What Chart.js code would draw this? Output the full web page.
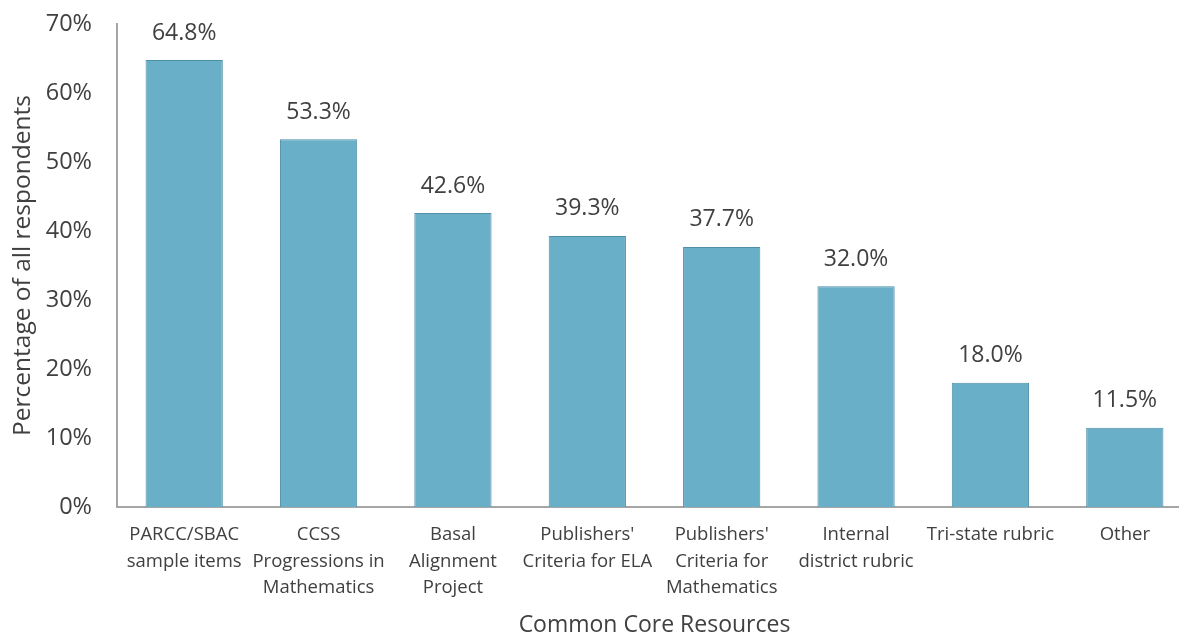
<!DOCTYPE html>
<html>
<head>
<meta charset="utf-8">
<script src="https://cdn.jsdelivr.net/npm/chart.js@4/dist/chart.umd.min.js"></script>
<style>
    body { margin: 0; background: #fff; overflow: hidden; }
    canvas { display: block; margin-top: -7px; }
</style>
</head>
<body>
<canvas id="chart" width="1192" height="643"></canvas>
<script>
const categories = [
    ["PARCC/SBAC", "sample items"],
    ["CCSS", "Progressions in", "Mathematics"],
    ["Basal", "Alignment", "Project"],
    ["Publishers'", "Criteria for ELA"],
    ["Publishers'", "Criteria for", "Mathematics"],
    ["Internal", "district rubric"],
    "Tri-state rubric",
    "Other",
]
const values = [64.8, 53.3, 42.6, 39.3, 37.7, 32.0, 18.0, 11.5]
const yTicks = [0, 10, 20, 30, 40, 50, 60, 70]

const FONT = "'Open Sans', sans-serif"
const TEXT = "#404040"
const AXIS = "#a6a6a6"

// draws the percentage above each bar
const barLabels = {
    id: "barLabels",
    afterDatasetsDraw(chart) {
        const { ctx } = chart
        const meta = chart.getDatasetMeta(0)
        ctx.save()
        ctx.font = `23px ${FONT}`
        ctx.fillStyle = TEXT
        ctx.textAlign = "center"
        ctx.textBaseline = "middle"
        meta.data.forEach((bar, i) => {
            ctx.fillText(values[i].toFixed(1) + "%", bar.x, bar.y - 27)
        })
        ctx.restore()
    },
}

const _ = new Chart(document.getElementById("chart"), {
    type: "bar",
    data: {
        labels: categories,
        datasets: [
            {
                data: values,
                backgroundColor: "#6aafc8",
                borderColor: "#4f8fa8",
                borderWidth: 1,
                barPercentage: 0.575,
                categoryPercentage: 1,
            },
        ],
    },
    options: {
        responsive: false,
        animation: false,
        layout: { padding: { top: 12, right: 0, left: 0, bottom: 0 } },
        plugins: {
            legend: { display: false },
            tooltip: { enabled: false },
        },
        scales: {
            x: {
                grid: { display: false },
                border: { display: true, color: AXIS, width: 2 },
                ticks: {
                    color: TEXT,
                    font: { family: FONT, size: 18.5, lineHeight: 1.43 },
                    maxRotation: 0,
                    autoSkip: false,
                    padding: 7,
                },
                title: {
                    display: true,
                    text: "Common Core Resources",
                    color: TEXT,
                    font: { family: FONT, size: 23 },
                    padding: { top: 0, bottom: -3 },
                },
                afterFit: s => { s.height = 129 },
            },
            y: {
                min: 0,
                max: 70,
                afterBuildTicks: s => { s.ticks = yTicks.map(v => ({ value: v })) },
                grid: { display: false },
                border: { display: true, color: AXIS, width: 2 },
                ticks: {
                    color: TEXT,
                    font: { family: FONT, size: 23.5 },
                    padding: 17,
                    callback: v => v + "%",
                },
                title: {
                    display: true,
                    text: "Percentage of all respondents",
                    color: TEXT,
                    font: { family: FONT, size: 24.5 },
                    padding: { top: 8, bottom: 0 },
                },
                afterFit: s => { s.width = 117 },
            },
        },
    },
    plugins: [barLabels],
})
</script>
</body>
</html>
